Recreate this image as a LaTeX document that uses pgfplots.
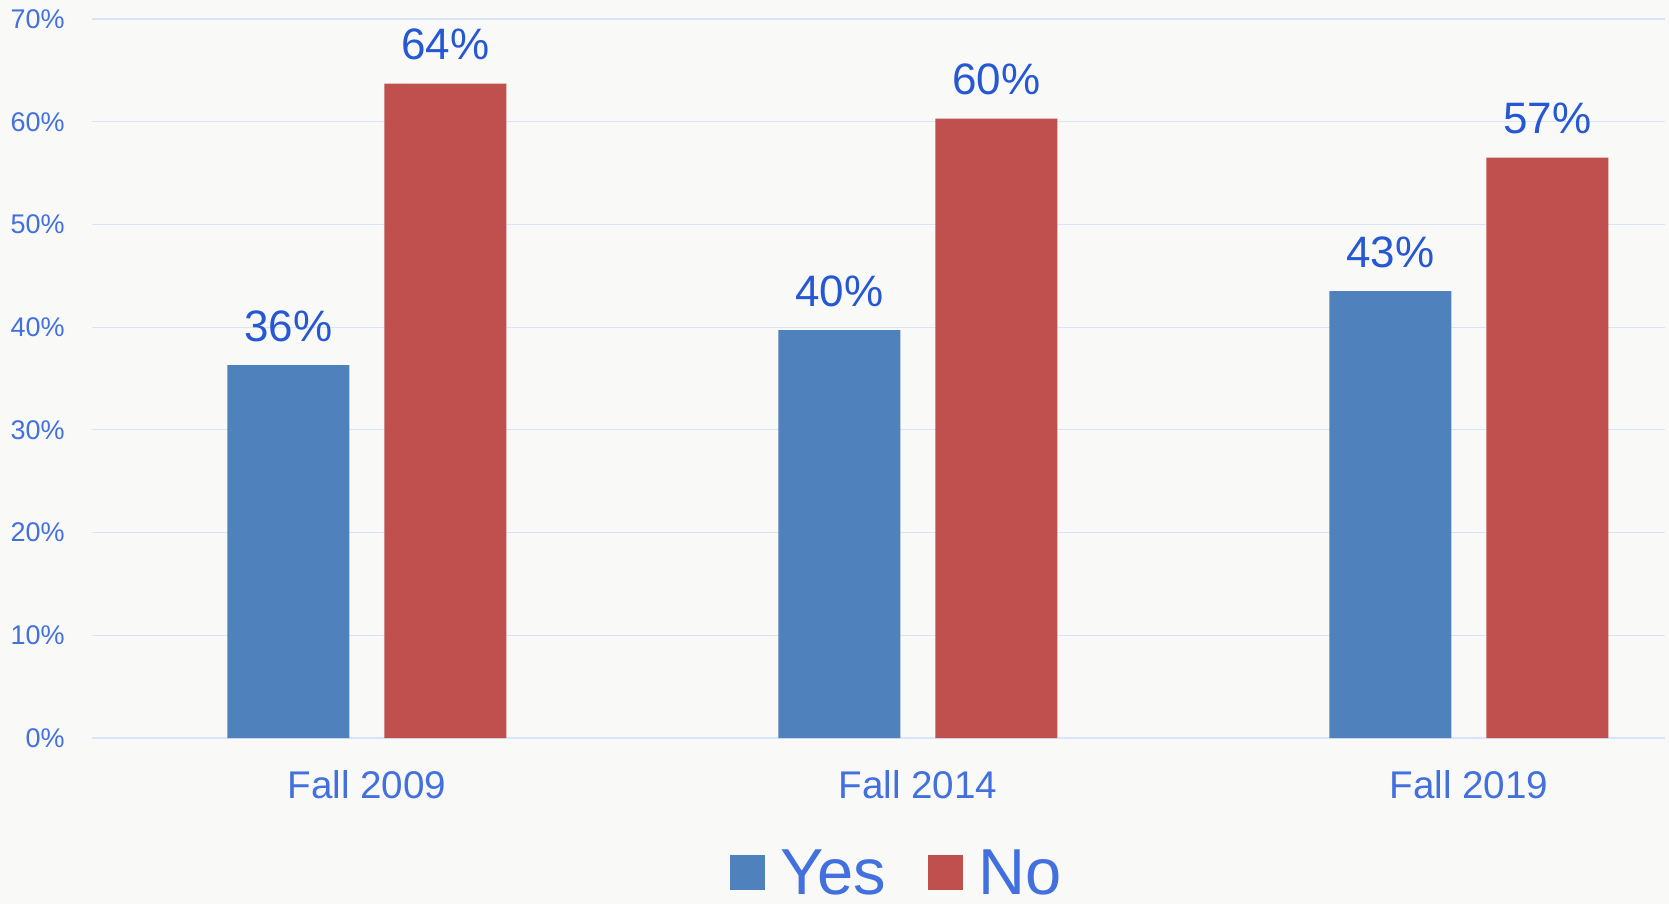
\documentclass[border=0pt]{standalone}
\usepackage{pgfplots}
\pgfplotsset{compat=1.18}
\usepackage{fontspec}
\setmainfont{Liberation Sans}

\definecolor{bgc}{RGB}{249,249,247}
\definecolor{gridc}{RGB}{218,228,248}
\definecolor{tickc}{RGB}{66,112,222}
\definecolor{labc}{RGB}{38,88,212}
\definecolor{yesc}{RGB}{79,129,189}
\definecolor{noc}{RGB}{192,80,77}

\begin{document}
\begin{tikzpicture}
\fill[bgc] (-46pt,-83pt) rectangle (788.5pt,369pt);
\useasboundingbox (-46pt,-83pt) rectangle (788.5pt,369pt);
\begin{axis}[
    scale only axis,
    width=786.5pt, height=359.5pt,
    xmin=-0.499, xmax=2.356,
    ymin=0, ymax=70,
    axis line style={draw=none},
    tick style={draw=none},
    ybar=17.5pt,
    bar width=61pt,
    every axis plot post/.append style={
        legend image code/.code={\fill[##1] (0pt,-8pt) rectangle (17.5pt,9.5pt);}},
    xtick={0,1,2},
    xticklabels={Fall 2009,Fall 2014,Fall 2019},
    xticklabel style={font=\fontsize{19.3}{21}\selectfont, text=tickc,
        anchor=base, inner sep=0pt, yshift=-26pt},
    ytick={0,10,...,70},
    yticklabels={0\%,10\%,20\%,30\%,40\%,50\%,60\%,70\%},
    yticklabel style={font=\fontsize{13.5}{15}\selectfont, text=tickc,
        anchor=east, inner sep=0pt, xshift=-13.5pt},
    ymajorgrids,
    major grid style={draw=gridc, line width=0.6pt},
    point meta=explicit symbolic,
    nodes near coords,
    every node near coord/.append style={font=\fontsize{22}{24}\selectfont,
        text=labc, anchor=base, inner sep=0pt, yshift=12pt},
    legend columns=2,
    legend style={at={(0.511,-0.2225)}, anchor=south, draw=none, fill=none,
        inner sep=0pt, font=\fontsize{32.5}{34}\selectfont, text=tickc,
        nodes={inner sep=0pt},
        /tikz/every odd column/.append style={column sep=7.5pt},
        /tikz/every even column/.append style={column sep=21pt}},
]
\addplot[fill=yesc, draw=none] coordinates {
    (0,36.3) [36\%]
    (1,39.7) [40\%]
    (2,43.5) [43\%]
};
\addlegendentry{Yes}
\addplot[fill=noc, draw=none] coordinates {
    (0,63.7) [64\%]
    (1,60.3) [60\%]
    (2,56.5) [57\%]
};
\addlegendentry{No}
\end{axis}
\end{tikzpicture}
\end{document}
